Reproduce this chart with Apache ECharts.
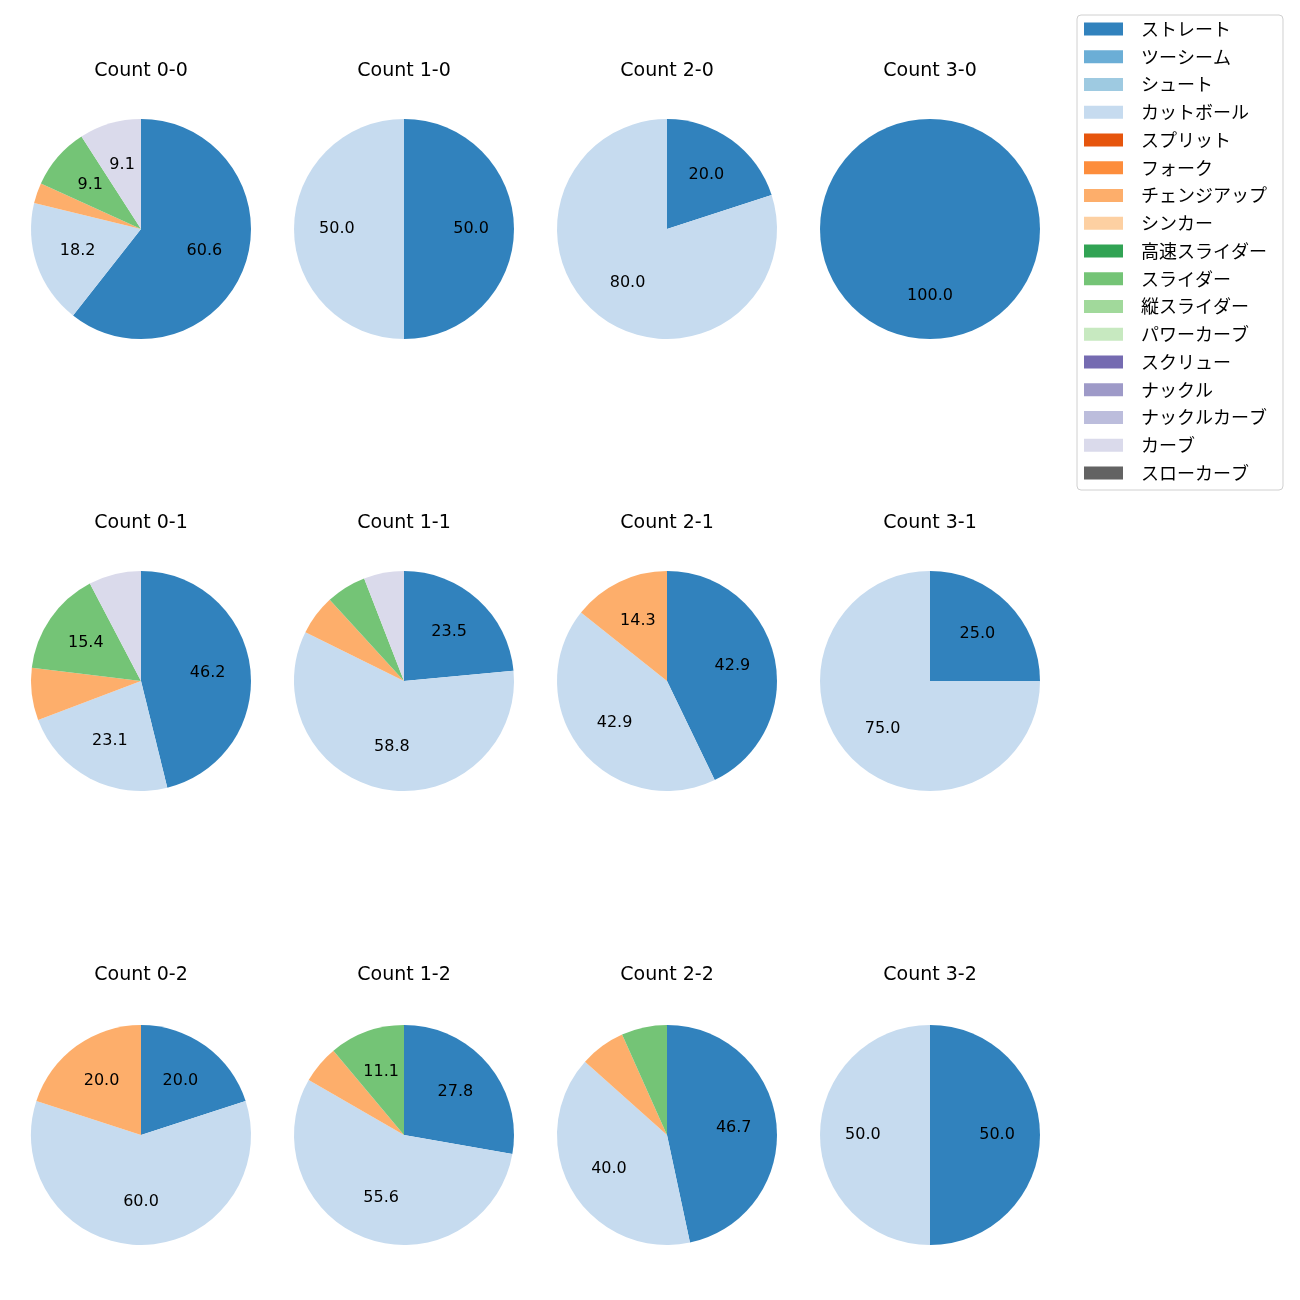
<!DOCTYPE html>
<html>
<head>
<meta charset="utf-8">
<script src="https://cdn.jsdelivr.net/npm/echarts@6/dist/echarts.min.js"></script>
<style>html,body{margin:0;padding:0;background:#fff}#c{width:1300px;height:1300px}</style>
</head>
<body>
<div id="c"></div>
<script>
// Pitch types (legend order)
const pitchTypes = ['ストレート','ツーシーム','シュート','カットボール','スプリット','フォーク','チェンジアップ','シンカー','高速スライダー','スライダー','縦スライダー','パワーカーブ','スクリュー','ナックル','ナックルカーブ','カーブ','スローカーブ'];
const pitchColors = ['#3182bd','#6baed6','#9ecae1','#c6dbef','#e6550d','#fd8d3c','#fdae6b','#fdd0a2','#31a354','#74c476','#a1d99b','#c7e9c0','#756bb1','#9e9ac8','#bcbddc','#dadaeb','#636363'];

// Percentages per count, in pitchTypes order
const count00 = [60.6,0,0,18.2,0,0,3.0,0,0,9.1,0,0,0,0,0,9.1,0];
const count10 = [50.0,0,0,50.0,0,0,0,0,0,0,0,0,0,0,0,0,0];
const count20 = [20.0,0,0,80.0,0,0,0,0,0,0,0,0,0,0,0,0,0];
const count30 = [100.0,0,0,0,0,0,0,0,0,0,0,0,0,0,0,0,0];
const count01 = [46.2,0,0,23.1,0,0,7.7,0,0,15.4,0,0,0,0,0,7.7,0];
const count11 = [23.5,0,0,58.8,0,0,5.9,0,0,5.9,0,0,0,0,0,5.9,0];
const count21 = [42.9,0,0,42.9,0,0,14.3,0,0,0,0,0,0,0,0,0,0];
const count31 = [25.0,0,0,75.0,0,0,0,0,0,0,0,0,0,0,0,0,0];
const count02 = [20.0,0,0,60.0,0,0,20.0,0,0,0,0,0,0,0,0,0,0];
const count12 = [27.8,0,0,55.6,0,0,5.6,0,0,11.1,0,0,0,0,0,0,0];
const count22 = [46.7,0,0,40.0,0,0,6.7,0,0,6.7,0,0,0,0,0,0,0];
const count32 = [50.0,0,0,50.0,0,0,0,0,0,0,0,0,0,0,0,0,0];

const countTitles = ['Count 0-0','Count 1-0','Count 2-0','Count 3-0','Count 0-1','Count 1-1','Count 2-1','Count 3-1','Count 0-2','Count 1-2','Count 2-2','Count 3-2'];
const countData = [count00,count10,count20,count30,count01,count11,count21,count31,count02,count12,count22,count32];

const FONT = '"DejaVu Sans", "Noto Sans CJK JP", sans-serif';
const LFONT = '"Noto Sans CJK JP", sans-serif';
const colX = [141, 404, 667, 930];
const rowY = [229, 681, 1135];
const titleTop = [62, 514, 966];
const R = 110;
const LABEL_MIN = 8;

const titles = [], visible = [], overlay = [];
countData.forEach((vals, i) => {
  const cx = colX[i % 4], cy = rowY[Math.floor(i / 4)];
  const data = pitchTypes.map((n, k) => ({ name: n, value: vals[k] }));
  titles.push({
    text: countTitles[i], left: cx, top: titleTop[Math.floor(i / 4)], textAlign: 'center', padding: 0,
    textStyle: { fontFamily: FONT, fontSize: 19, fontWeight: 'normal', color: '#000' }
  });
  visible.push({
    type: 'pie', center: [cx, cy], radius: [0, R], startAngle: 90, clockwise: true,
    color: pitchColors, data: data, label: { show: false }, labelLine: { show: false },
    itemStyle: { borderWidth: 0 }, emphasis: { disabled: true }, silent: true, animation: false
  });
  overlay.push({
    type: 'pie', center: [cx, cy], radius: [R * 0.165, R], startAngle: 90, clockwise: true,
    data: data, itemStyle: { color: 'rgba(0,0,0,0)', borderWidth: 0 },
    label: {
      show: true, position: 'inside', fontFamily: FONT, fontSize: 16, color: '#000',
      formatter: p => (p.value >= LABEL_MIN ? p.value.toFixed(1) : '')
    },
    labelLine: { show: false }, emphasis: { disabled: true }, silent: true, animation: false
  });
});

const chart = echarts.init(document.getElementById('c'), null, { renderer: 'canvas' });
chart.setOption({
  animation: false,
  backgroundColor: '#fff',
  title: titles,
  legend: {
    data: pitchTypes, orient: 'vertical', left: 1077, top: 15,
    itemWidth: 39, itemHeight: 13, itemGap: 9.75,
    padding: [5, 16, 8, 7],
    borderColor: '#d0d0d0', borderWidth: 1, borderRadius: 4, backgroundColor: '#fff',
    selectedMode: false, icon: 'rect',
    textStyle: { fontFamily: LFONT, fontSize: 18, color: '#000', padding: [0, 0, 0, 13], lineHeight: 18 }
  },
  series: visible.concat(overlay)
});
</script>
</body>
</html>
